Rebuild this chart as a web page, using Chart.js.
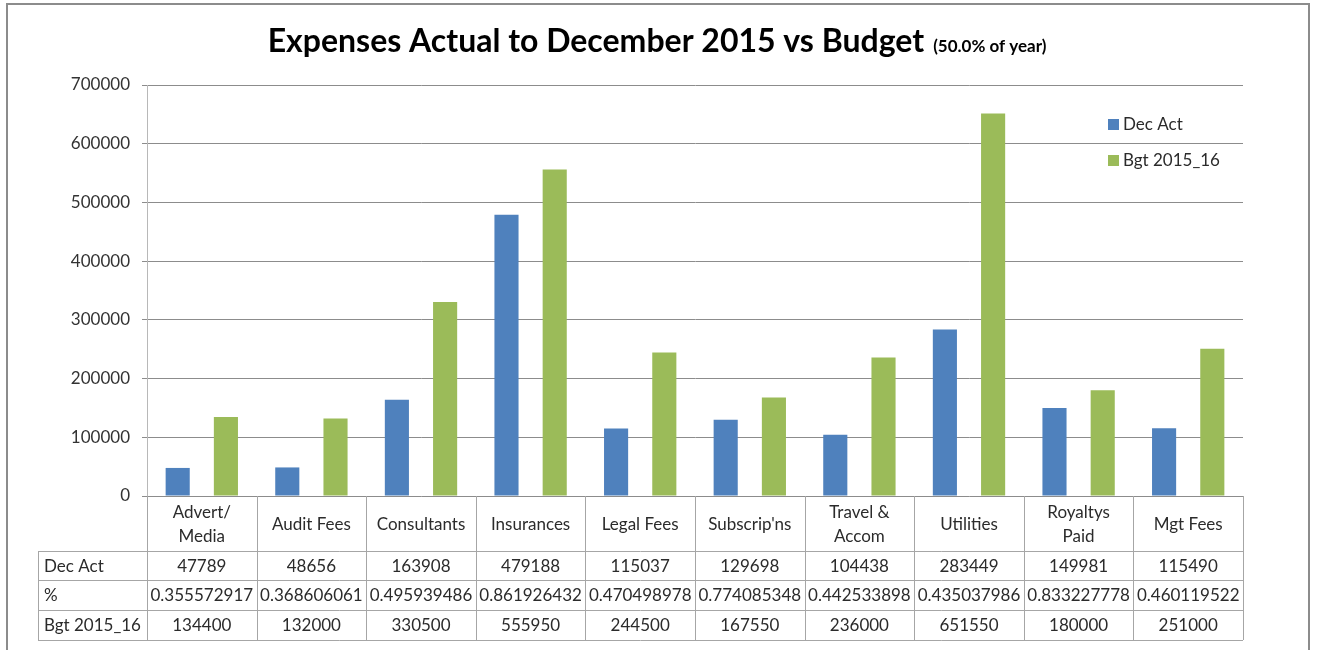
<!DOCTYPE html>
<html>
<head>
<meta charset="utf-8">
<script src="https://cdn.jsdelivr.net/npm/chart.js@4.4.1/dist/chart.umd.min.js"></script>
<style>
  html, body { margin: 0; padding: 0; background: #ffffff; }
  canvas { display: block; }
</style>
</head>
<body>
<canvas id="chart" width="1317" height="650"></canvas>
<script>
// Expense categories (multi-line where the table header wraps)
const categories = [
  ["Advert/", "Media"], ["Audit Fees"], ["Consultants"], ["Insurances"], ["Legal Fees"],
  ["Subscrip'ns"], ["Travel &", "Accom"], ["Utilities"], ["Royaltys", "Paid"], ["Mgt Fees"]
];
// Actual spend to December 2015
const decAct = [47789, 48656, 163908, 479188, 115037, 129698, 104438, 283449, 149981, 115490];
// Share of budget spent
const pctSpent = ["0.355572917", "0.368606061", "0.495939486", "0.861926432", "0.470498978",
                  "0.774085348", "0.442533898", "0.435037986", "0.833227778", "0.460119522"];
// Full-year budget 2015/16
const budget = [134400, 132000, 330500, 555950, 244500, 167550, 236000, 651550, 180000, 251000];
const seriesNames = ["Dec Act", "Bgt 2015_16"];
const rowNames = ["Dec Act", "%", "Bgt 2015_16"];
const titleMain = "Expenses Actual to December 2015 vs Budget";
const titleNote = "(50.0% of year)";
const yMin = 0, yMax = 700000, yStep = 100000;

const BLUE = "#4F81BD";
const GREEN = "#9BBB59";
const TEXT = "#2b2b2b";
const FONT = "Lato, 'Open Sans', sans-serif";

// White background and outer frame
const framePlugin = {
  id: "frame",
  beforeDraw(chart) {
    const ctx = chart.ctx;
    ctx.save();
    ctx.fillStyle = "#ffffff";
    ctx.fillRect(0, 0, chart.width, chart.height);
    ctx.strokeStyle = "#8c8c8c";
    ctx.lineWidth = 2;
    ctx.strokeRect(7, 4, 1302, 700);
    ctx.restore();
  }
};

// Title with the smaller note on the same line
const titlePlugin = {
  id: "titleLine",
  afterDraw(chart) {
    const ctx = chart.ctx;
    ctx.save();
    const fMain = "bold 32px " + FONT;
    const fNote = "bold 17px " + FONT;
    ctx.font = fMain;
    const w1 = ctx.measureText(titleMain).width;
    ctx.font = fNote;
    const w2 = ctx.measureText(titleNote).width;
    const gap = 9;
    const x0 = 657 - (w1 + gap + w2) / 2;
    ctx.textBaseline = "alphabetic";
    ctx.textAlign = "left";
    ctx.fillStyle = "#000000";
    ctx.font = fMain;
    ctx.fillText(titleMain, x0, 52);
    ctx.font = fNote;
    ctx.fillText(titleNote, x0 + w1 + gap, 52);
    ctx.restore();
  }
};

// Legend placed inside the plot on the right
const legendPlugin = {
  id: "insideLegend",
  afterDraw(chart) {
    const ctx = chart.ctx;
    ctx.save();
    ctx.font = "17px " + FONT;
    ctx.textBaseline = "middle";
    ctx.textAlign = "left";
    chart.data.datasets.forEach((ds, i) => {
      const y = 119 + i * 36;
      ctx.fillStyle = ds.backgroundColor;
      ctx.fillRect(1108, y, 11, 11);
      ctx.fillStyle = TEXT;
      ctx.fillText(ds.label, 1123, y + 6);
    });
    ctx.restore();
  }
};

// Data table under the plot, aligned to the category scale
const tablePlugin = {
  id: "dataTable",
  afterDraw(chart) {
    const ctx = chart.ctx;
    const xs = chart.scales.x;
    const area = chart.chartArea;
    const n = categories.length;
    const cw = (area.right - area.left) / n;
    const top = area.bottom;
    const headBottom = top + 55;
    const rowLines = [headBottom, headBottom + 29, headBottom + 59, headBottom + 89];
    const leftEdge = 38;
    const px = v => Math.round(v) + 0.5;

    ctx.save();
    ctx.strokeStyle = "#a6a6a6";
    ctx.lineWidth = 1;
    ctx.beginPath();
    rowLines.forEach(y => {
      ctx.moveTo(leftEdge, px(y));
      ctx.lineTo(area.right, px(y));
    });
    ctx.moveTo(px(leftEdge), rowLines[0]);
    ctx.lineTo(px(leftEdge), rowLines[3]);
    for (let i = 0; i <= n; i++) {
      const x = px(area.left + i * cw);
      ctx.moveTo(x, top);
      ctx.lineTo(x, rowLines[3]);
    }
    ctx.stroke();

    ctx.fillStyle = TEXT;
    ctx.font = "17px " + FONT;
    ctx.textBaseline = "middle";

    // header labels
    ctx.textAlign = "center";
    categories.forEach((lines, i) => {
      const cx = xs.getPixelForValue(i);
      const cy = (top + headBottom) / 2 + 1;
      const lh = 24;
      lines.forEach((t, k) => {
        ctx.fillText(t, cx, cy + (k - (lines.length - 1) / 2) * lh);
      });
    });

    const rows = [decAct.map(String), pctSpent, budget.map(String)];
    rows.forEach((vals, r) => {
      const cy = (rowLines[r] + rowLines[r + 1]) / 2 + 1;
      ctx.textAlign = "left";
      ctx.fillText(rowNames[r], 44, cy);
      ctx.textAlign = "center";
      vals.forEach((v, i) => ctx.fillText(v, xs.getPixelForValue(i), cy));
    });
    ctx.restore();
  }
};

new Chart(document.getElementById("chart"), {
  type: "bar",
  data: {
    labels: categories.map(c => c.join(" ")),
    datasets: [
      { label: seriesNames[0], data: decAct, backgroundColor: BLUE },
      { label: seriesNames[1], data: budget, backgroundColor: GREEN }
    ]
  },
  options: {
    responsive: false,
    animation: false,
    devicePixelRatio: 1,
    layout: { padding: { left: 0, right: 74, top: 85, bottom: 154 } },
    datasets: { bar: { categoryPercentage: 0.88, barPercentage: 0.5 } },
    plugins: {
      legend: { display: false },
      title: { display: false },
      tooltip: { enabled: false }
    },
    scales: {
      x: {
        grid: { display: false },
        border: { display: false },
        ticks: { display: false },
        afterFit: s => { s.height = 0; }
      },
      y: {
        min: yMin,
        max: yMax,
        ticks: {
          stepSize: yStep,
          padding: 12,
          color: "#333333",
          font: { family: FONT, size: 17 },
          callback: v => String(v)
        },
        grid: { color: "#8c8c8c", tickLength: 5, lineWidth: 1 },
        border: { color: "#b8b8b8" },
        afterFit: s => { s.width = 147; }
      }
    }
  },
  plugins: [framePlugin, tablePlugin, legendPlugin, titlePlugin]
});
</script>
</body>
</html>
